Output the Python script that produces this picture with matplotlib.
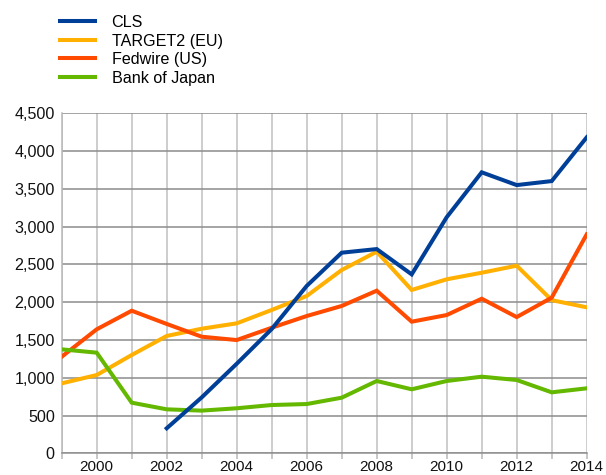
import matplotlib
matplotlib.use("Agg")
import matplotlib.pyplot as plt
from matplotlib.ticker import FuncFormatter, MultipleLocator
import numpy as np

plt.rcParams['font.family'] = ['Liberation Sans', 'DejaVu Sans']

years = list(range(1999, 2015))
cls_years = list(range(2002, 2015))
cls = [331, 740, 1185, 1645, 2215, 2655, 2703, 2368, 3125, 3719, 3550, 3603, 4182]
target2 = [926, 1036, 1301, 1553, 1649, 1720, 1897, 2082, 2426, 2668, 2162, 2303, 2390, 2483, 2027, 1932]
fedwire = [1278, 1641, 1887, 1712, 1543, 1499, 1662, 1817, 1950, 2152, 1742, 1830, 2046, 1803, 2060, 2898]
boj = [1376, 1332, 670, 582, 565, 596, 639, 652, 736, 957, 847, 957, 1014, 970, 807, 860]

labels = ["CLS", "TARGET2 (EU)", "Fedwire (US)", "Bank of Japan"]
colors = ["#003f98", "#ffb000", "#ff4a00", "#64b800"]

fs = 11.6
fig = plt.figure(figsize=(6.06, 4.75), dpi=100)
ax = fig.add_axes([61.7/606, (475-453.3)/475, (586.7-61.7)/606, (453.3-113.3)/475])

lw = 2.9
ax.plot(cls_years, cls, color=colors[0], lw=lw, label=labels[0], zorder=5, solid_joinstyle='miter')
ax.plot(years, target2, color=colors[1], lw=lw, label=labels[1], zorder=4, solid_joinstyle='miter')
ax.plot(years, fedwire, color=colors[2], lw=lw, label=labels[2], zorder=4, solid_joinstyle='miter')
ax.plot(years, boj, color=colors[3], lw=lw, label=labels[3], zorder=4, solid_joinstyle='miter')

ax.set_xlim(1999, 2014)
ax.set_ylim(0, 4500)
ax.yaxis.set_major_locator(MultipleLocator(500))
ax.yaxis.set_major_formatter(FuncFormatter(lambda v, p: f"{int(v):,}"))
ax.set_xticks(years)
ax.set_xticklabels([str(y) if y % 2 == 0 else "" for y in years])

for s in ['top', 'right']:
    ax.spines[s].set_visible(False)
ax.spines['left'].set_color('#b8b8b8')
ax.spines['left'].set_linewidth(1.1)
ax.spines['bottom'].set_color('#909090')
ax.spines['bottom'].set_linewidth(1.1)

ax.grid(axis='y', color='#8c8c8c', lw=1.1)
ax.grid(axis='x', color='#c0c0c0', lw=1.1)
ax.set_axisbelow(True)

ax.tick_params(axis='y', length=0, pad=5, labelsize=fs, labelcolor='#111111')
ax.tick_params(axis='x', length=4, width=1.1, color='#b8b8b8', pad=0.5, labelsize=11, labelcolor='#111111')

fig.legend(loc='upper left', bbox_to_anchor=(60/606, 1 - 15/475), frameon=False,
           fontsize=fs, handlelength=2.2, handletextpad=1.0, labelspacing=0.22,
           borderpad=0, borderaxespad=0)

fig.savefig("out.png", dpi=100)
